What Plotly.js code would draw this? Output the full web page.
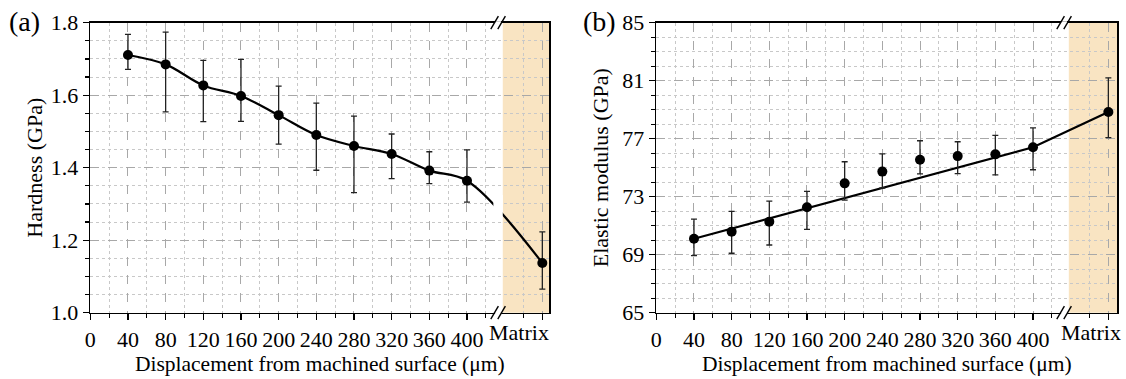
<!DOCTYPE html>
<html>
<head>
<meta charset="utf-8">
<script src="https://cdn.plot.ly/plotly-3.0.1.min.js"></script>
<style>html,body{margin:0;padding:0;background:#fff;}#chart{width:1126px;height:379px;}</style>
</head>
<body>
<div id="chart"></div>
<script>
// ---- data ----
const displacement = [40, 80, 120, 160, 200, 240, 280, 320, 360, 400];
const matrixPos = 480;
const matrixLabel = "Matrix";
const xTickVals = [0, 40, 80, 120, 160, 200, 240, 280, 320, 360, 400];

const hardness = [1.711, 1.685, 1.627, 1.598, 1.545, 1.490, 1.460, 1.438, 1.392, 1.364];
const hardnessErrPlus = [0.057, 0.089, 0.069, 0.101, 0.080, 0.088, 0.082, 0.055, 0.052, 0.085];
const hardnessErrMinus = [0.040, 0.131, 0.100, 0.070, 0.080, 0.097, 0.129, 0.068, 0.036, 0.059];
const hardnessMatrix = 1.137;
const hardnessMatrixErrPlus = 0.086;
const hardnessMatrixErrMinus = 0.072;

const modulus = [70.10, 70.59, 71.28, 72.27, 73.92, 74.73, 75.55, 75.80, 75.92, 76.41];
const modulusErrPlus = [1.36, 1.40, 1.42, 1.10, 1.49, 1.22, 1.31, 0.99, 1.31, 1.33];
const modulusErrMinus = [1.17, 1.49, 1.61, 1.52, 1.15, 1.13, 0.98, 1.21, 1.42, 1.55];
const modulusMatrix = 78.84;
const modulusMatrixErrPlus = 2.35;
const modulusMatrixErrMinus = 1.77;

const hardTickVals = [1.0, 1.2, 1.4, 1.6, 1.8];
const modTickVals = [65, 69, 73, 77, 81, 85];

// ---- build ----
const FONT = '"Liberation Serif", "Times New Roman", serif';
const xAll = displacement.concat([matrixPos]);
const hAll = hardness.concat([hardnessMatrix]);
const hP = hardnessErrPlus.concat([hardnessMatrixErrPlus]);
const hM = hardnessErrMinus.concat([hardnessMatrixErrMinus]);
const mAll = modulus.concat([modulusMatrix]);
const mP = modulusErrPlus.concat([modulusMatrixErrPlus]);
const mM = modulusErrMinus.concat([modulusMatrixErrMinus]);

const breakX = 433;      // axis break position
const shadeStart = 438;  // matrix region start
const xRangeA = [0, 487.4];
const xRangeB = [0, 489.5];

const traces = [
  { x: xAll, y: hAll, mode: 'lines', line: {color: '#000', width: 2.2, shape: 'spline', smoothing: 1},
    xaxis: 'x', yaxis: 'y', hoverinfo: 'skip', showlegend: false },
  { x: xAll, y: hAll, mode: 'markers', marker: {color: '#000', size: 10},
    error_y: {type: 'data', symmetric: false, array: hP, arrayminus: hM, color: '#222', thickness: 1.3, width: 3},
    xaxis: 'x', yaxis: 'y', showlegend: false },
  { x: [displacement[0], displacement[displacement.length-1], matrixPos],
    y: [modulus[0], modulus[modulus.length-1], modulusMatrix],
    mode: 'lines', line: {color: '#000', width: 2.2},
    xaxis: 'x2', yaxis: 'y2', hoverinfo: 'skip', showlegend: false },
  { x: xAll, y: mAll, mode: 'markers', marker: {color: '#000', size: 10},
    error_y: {type: 'data', symmetric: false, array: mP, arrayminus: mM, color: '#222', thickness: 1.3, width: 3},
    xaxis: 'x2', yaxis: 'y2', showlegend: false }
];

function xAxis(domain, range, anchor) {
  return {
    domain: domain, range: range, anchor: anchor, automargin: false,
    tickmode: 'array', tickvals: xTickVals.concat([matrixPos]),
    ticktext: xTickVals.map(String).concat(['']),
    ticks: 'outside', ticklen: 6, tickwidth: 1.3, tickcolor: '#000',
    showline: true, linecolor: '#000', linewidth: 1.6, mirror: true,
    showgrid: true, gridcolor: '#a8a8a8', griddash: 'dash', gridwidth: 1,
    zeroline: false,
    minor: {tickvals: [20,60,100,140,180,220,260,300,340,380,420,460], ticks: 'outside', ticklen: 3.5,
            tickcolor: '#000', tickwidth: 1.2, showgrid: true, gridcolor: '#c8c8c8', griddash: 'dot', gridwidth: 1},
    tickfont: {family: FONT, size: 22, color: '#000'},
    title: {text: 'Displacement from machined surface (μm)', font: {family: FONT, size: 21.5, color: '#000'}, standoff: 1}
  };
}
function yAxis(domain, range, tickvals, fmt, minorD, title, anchor, standoff) {
  return {
    domain: domain, range: range, anchor: anchor, automargin: false,
    tickmode: 'array', tickvals: tickvals, ticktext: tickvals.map(v => fmt(v)),
    ticks: 'outside', ticklen: 6, tickwidth: 1.3, tickcolor: '#000',
    showline: true, linecolor: '#000', linewidth: 1.6, mirror: true,
    showgrid: true, gridcolor: '#a8a8a8', griddash: 'dash', gridwidth: 1,
    zeroline: false,
    minor: {dtick: minorD, tick0: range[0], ticks: 'outside', ticklen: 3.5, tickcolor: '#000', tickwidth: 1.2,
            showgrid: true, gridcolor: '#c8c8c8', griddash: 'dot', gridwidth: 1},
    tickfont: {family: FONT, size: 22, color: '#000'},
    title: {text: title, font: {family: FONT, size: 22, color: '#000'}, standoff: standoff}
  };
}

const yDom = [1 - 312.7/379, 1 - 22.7/379];
const xDomA = [90.3/1126, 549.3/1126];
const xDomB = [656.3/1126, 1117.3/1126];

function slash(xref, yref, xc, yp, dx) {
  return {type: 'line', xref: xref, yref: yref, xsizemode: 'pixel', ysizemode: 'pixel',
    xanchor: xc, yanchor: yp, x0: dx - 3.8, x1: dx + 3.8, y0: -6.5, y1: 6.5,
    line: {color: '#000', width: 1.4}, layer: 'above'};
}
function gapCover(xref, yref, xc, yp) {
  return {type: 'rect', xref: xref, yref: yref, xsizemode: 'pixel', ysizemode: 'pixel',
    xanchor: xc, yanchor: yp, x0: -3, x1: 3, y0: -1.5, y1: 1.5,
    fillcolor: '#fff', line: {width: 0}, layer: 'above'};
}

const shapes = [];
[['x','y', xRangeA],['x2','y2', xRangeB]].forEach(([xr, yr, rng]) => {
  shapes.push({type: 'rect', xref: xr, yref: yr + ' domain', x0: shadeStart, x1: rng[1], y0: 0, y1: 1,
    fillcolor: '#f9e4c2', line: {width: 0}, layer: 'below'});
  [0, 1].forEach(yp => {
    shapes.push(gapCover(xr, yr + ' domain', breakX, yp));
    shapes.push(slash(xr, yr + ' domain', breakX, yp, -3.5));
    shapes.push(slash(xr, yr + ' domain', breakX, yp, 3.5));
  });
});
// gap in the hardness curve at the axis break
shapes.push({type: 'rect', xref: 'x', yref: 'y', x0: 428, x1: shadeStart, y0: 1.265, y1: 1.325,
  fillcolor: '#fff', line: {width: 0}, layer: 'above'});

const layout = {
  width: 1126, height: 379,
  margin: {l: 0, r: 0, t: 0, b: 0},
  paper_bgcolor: '#fff', plot_bgcolor: '#fff',
  showlegend: false,
  xaxis: xAxis(xDomA, xRangeA, 'y'),
  yaxis: yAxis(yDom, [1.0, 1.8], hardTickVals, v => v.toFixed(1), 0.05, 'Hardness (GPa)', 'x', 2),
  xaxis2: xAxis(xDomB, xRangeB, 'y2'),
  yaxis2: yAxis(yDom, [65, 85], modTickVals, v => String(v), 1, 'Elastic modulus (GPa)', 'x2', 7),
  shapes: shapes,
  annotations: [
    {text: '(a)', xref: 'paper', yref: 'paper', x: 7/1126, y: 1 - 21/379, xanchor: 'left', yanchor: 'middle',
     showarrow: false, font: {family: FONT, size: 28, color: '#000'}},
    {text: '(b)', xref: 'paper', yref: 'paper', x: 581/1126, y: 1 - 21/379, xanchor: 'left', yanchor: 'middle',
     showarrow: false, font: {family: FONT, size: 28, color: '#000'}},
    {text: matrixLabel, xref: 'x domain', yref: 'y domain', x: 1, y: 0, xanchor: 'right', yanchor: 'top',
     xshift: 2, yshift: -5, showarrow: false, font: {family: FONT, size: 22, color: '#000'}},
    {text: matrixLabel, xref: 'x2 domain', yref: 'y2 domain', x: 1, y: 0, xanchor: 'right', yanchor: 'top',
     xshift: 6, yshift: -5, showarrow: false, font: {family: FONT, size: 22, color: '#000'}}
  ]
};

Plotly.newPlot('chart', traces, layout, {staticPlot: true, displayModeBar: false});
</script>
</body>
</html>
